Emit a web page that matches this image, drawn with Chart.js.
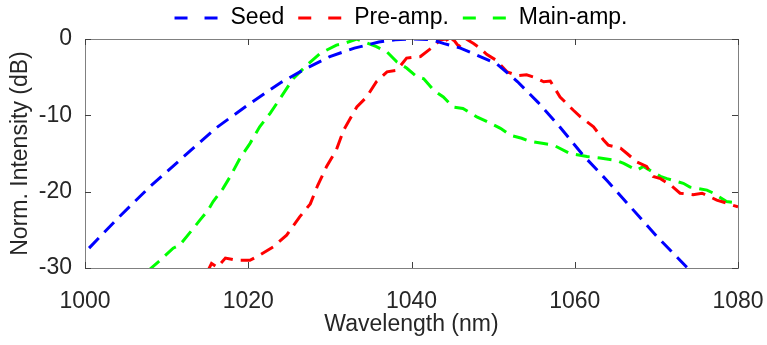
<!DOCTYPE html>
<html>
<head>
<meta charset="utf-8">
<script src="https://cdn.jsdelivr.net/npm/chart.js@4.4.1/dist/chart.umd.min.js"></script>
<style>
  body { margin: 0; background: #fff; }
  #chart { display: block; }
</style>
</head>
<body>
<canvas id="chart" width="767" height="345"></canvas>
<script>
"use strict";

// 凡例の名前と色
const seriesNames = ["Seed", "Pre-amp.", "Main-amp."];
const seriesColors = ["#0000ff", "#ff0000", "#00ff00"];

// 目盛
const xTicks = [1000, 1020, 1040, 1060, 1080];
const yTicks = [-30, -20, -10, 0];

// Seed
const seedWl = [1000.5, 1004, 1008, 1012, 1016, 1020, 1024, 1027, 1030, 1033, 1036, 1038, 1040, 1042.5, 1044, 1046, 1048, 1050.5, 1053, 1055.5, 1058, 1061, 1064, 1067, 1070, 1074];
const seedDb = [-27.4, -23.5, -19.3, -15.5, -11.7, -8.6, -5.7, -3.9, -2.3, -1.2, -0.4, -0.1, 0, -0.1, -0.6, -1.2, -2.1, -3.3, -5.6, -8.3, -11.3, -15.2, -18.6, -22.2, -25.8, -30.2];

// Pre-amp.
const preWl = [1015.0, 1015.5, 1016.2, 1017.2, 1018.6, 1020.2, 1021.4, 1023.1, 1024.7, 1026.3, 1027.6, 1028.5, 1029.6, 1030.8, 1031.7, 1033.3, 1034.5, 1035.7, 1037.0, 1038.2, 1039.4, 1041.1, 1042.9, 1043.5, 1044.3, 1044.6, 1045.1, 1045.8, 1046.7, 1047.6, 1048.4, 1049.2, 1050.4, 1051.7, 1053.0, 1054.1, 1055.0, 1056.2, 1057.0, 1058.2, 1059.8, 1060.7, 1062.3, 1063.5, 1064.1, 1065.6, 1066.4, 1067.6, 1068.8, 1069.6, 1070.5, 1071.7, 1072.9, 1074.5, 1075.6, 1077.4, 1078.6, 1080];
const preDb = [-30.5, -29.4, -29.9, -28.7, -29.0, -29.0, -28.3, -27.2, -25.7, -23.3, -21.6, -19.2, -16.7, -14.5, -11.9, -8.9, -7.6, -5.6, -4.3, -4.1, -2.5, -2.3, -0.8, -0.1, 0, -0.7, 0, -1.0, 0, -0.6, -1.2, -2.0, -2.8, -4.3, -4.8, -4.7, -5.0, -5.6, -5.5, -7.6, -9.3, -10.2, -11.5, -13.2, -13.9, -14.3, -15.0, -16.1, -16.7, -18.0, -18.3, -19.1, -20.2, -20.4, -20.2, -21.1, -21.5, -22.0];

// Main-amp.
const mainWl = [1007.8, 1009.2, 1010.8, 1011.6, 1012.9, 1014.1, 1015.1, 1015.7, 1016.9, 1017.8, 1019.0, 1020.2, 1021.4, 1022.7, 1023.9, 1025.5, 1027.2, 1028.8, 1030.8, 1031.7, 1033.3, 1034.1, 1035.7, 1037.0, 1038.2, 1039.4, 1040.6, 1041.5, 1042.7, 1043.9, 1045.1, 1046.3, 1048.0, 1049.2, 1050.9, 1052.1, 1053.5, 1054.5, 1056.2, 1057.4, 1059.4, 1061.5, 1063.1, 1065.1, 1066.0, 1067.6, 1068.4, 1070.5, 1071.3, 1073.3, 1074.1, 1076.2, 1077.0, 1078.6, 1080];
const mainDb = [-30.3, -29.0, -27.4, -27.0, -25.3, -23.7, -22.4, -21.3, -19.6, -18.0, -15.6, -13.7, -11.5, -9.7, -7.8, -5.2, -3.4, -1.9, -0.8, -0.6, 0, -0.35, -1.0, -1.7, -3.0, -3.8, -4.9, -5.2, -6.7, -7.6, -8.9, -9.1, -10.2, -10.8, -11.7, -12.6, -13.0, -13.4, -13.7, -13.9, -15.0, -15.4, -15.6, -15.9, -16.3, -17.2, -16.7, -18.0, -18.3, -18.9, -19.4, -19.8, -20.2, -21.3, -21.5];

const FONT = "'Liberation Sans', Arial, Helvetica, sans-serif";
const FONT_SIZE = 23;
const TEXT_COLOR = "#262626";

function toPoints(xs, ys) {
  return xs.map(function (x, i) {
    return { x: x, y: ys[i] };
  });
}

function makeDataset(index, xs, ys) {
  return {
    label: seriesNames[index],
    data: toPoints(xs, ys),
    borderColor: seriesColors[index],
    backgroundColor: seriesColors[index],
    borderWidth: 3,
    borderDash: [14, 8],
    pointRadius: 0,
    tension: 0,
    fill: false,
  };
}

// 枠と内向きの目盛線
const boxPlugin = {
  id: "matlabBox",
  afterDraw(chart) {
    const ctx = chart.ctx;
    const a = chart.chartArea;
    const xs = chart.scales.x;
    const ys = chart.scales.y;
    const len = 6;
    ctx.save();
    ctx.lineWidth = 1;
    ctx.strokeStyle = "#808080";
    ctx.strokeRect(Math.round(a.left) + 0.5, Math.round(a.top) + 0.5, Math.round(a.right - a.left), Math.round(a.bottom - a.top));
    ctx.strokeStyle = "#404040";
    ctx.beginPath();
    xTicks.forEach(function (v) {
      const px = Math.round(xs.getPixelForValue(v)) + 0.5;
      ctx.moveTo(px, a.bottom);
      ctx.lineTo(px, a.bottom - len);
      ctx.moveTo(px, a.top);
      ctx.lineTo(px, a.top + len);
    });
    yTicks.forEach(function (v) {
      const py = Math.round(ys.getPixelForValue(v)) + 0.5;
      ctx.moveTo(a.left, py);
      ctx.lineTo(a.left + len, py);
      ctx.moveTo(a.right, py);
      ctx.lineTo(a.right - len, py);
    });
    ctx.stroke();
    ctx.restore();
  },
};

// 凡例（破線サンプル付き）
const legendPlugin = {
  id: "matlabLegend",
  afterDraw(chart) {
    const ctx = chart.ctx;
    const sample = 43;
    const gapText = 13;
    const gapItem = 14;
    const y = 18;
    ctx.save();
    ctx.font = FONT_SIZE + "px " + FONT;
    const widths = seriesNames.map(function (n) {
      return ctx.measureText(n).width;
    });
    let total = gapItem * (seriesNames.length - 1);
    widths.forEach(function (w) {
      total += sample + gapText + w;
    });
    let x = 401 - total / 2;
    chart.data.datasets.forEach(function (ds, i) {
      ctx.strokeStyle = ds.borderColor;
      ctx.lineWidth = 3;
      ctx.setLineDash([13, 17]);
      ctx.beginPath();
      ctx.moveTo(x, y);
      ctx.lineTo(x + sample, y);
      ctx.stroke();
      ctx.setLineDash([]);
      x += sample + gapText;
      ctx.fillStyle = "#000";
      ctx.textBaseline = "middle";
      ctx.textAlign = "left";
      ctx.fillText(ds.label, x, y);
      x += widths[i] + gapItem;
    });
    ctx.restore();
  },
};

function plainTick(value) {
  return String(value);
}

function drawChart() {
  const context = document.querySelector("#chart").getContext("2d");
  new Chart(context, {
    type: "line",
    data: {
      datasets: [
        makeDataset(0, seedWl, seedDb),
        makeDataset(1, preWl, preDb),
        makeDataset(2, mainWl, mainDb),
      ],
    },
    options: {
      responsive: false,
      animation: false,
      layout: {
        padding: { top: 39, right: 29, left: 0, bottom: 0 },
      },
      plugins: {
        legend: { display: false },
        tooltip: { enabled: false },
      },
      scales: {
        x: {
          type: "linear",
          min: 1000,
          max: 1080,
          afterFit: function (scale) {
            scale.height = 77;
            scale.paddingLeft = 0;
            scale.paddingRight = 0;
          },
          afterBuildTicks: function (scale) {
            scale.ticks = xTicks.map(function (v) {
              return { value: v };
            });
          },
          grid: { display: false },
          border: { display: false },
          ticks: {
            color: TEXT_COLOR,
            font: { family: FONT, size: FONT_SIZE },
            padding: 12,
            maxRotation: 0,
            callback: plainTick,
          },
          title: {
            display: true,
            text: "Wavelength (nm)",
            color: TEXT_COLOR,
            font: { family: FONT, size: FONT_SIZE },
            padding: { top: 4, bottom: 7 },
          },
        },
        y: {
          type: "linear",
          min: -30,
          max: 0,
          afterFit: function (scale) {
            scale.width = 85;
            scale.paddingTop = 0;
            scale.paddingBottom = 0;
          },
          afterBuildTicks: function (scale) {
            scale.ticks = yTicks.map(function (v) {
              return { value: v };
            });
          },
          grid: { display: false },
          border: { display: false },
          ticks: {
            color: TEXT_COLOR,
            font: { family: FONT, size: FONT_SIZE },
            padding: 5,
            callback: plainTick,
          },
          title: {
            display: true,
            text: "Norm. Intensity (dB)",
            color: TEXT_COLOR,
            font: { family: FONT, size: FONT_SIZE },
            padding: { top: 7, bottom: 0 },
          },
        },
      },
    },
    plugins: [boxPlugin, legendPlugin],
  });
}

drawChart();
</script>
</body>
</html>
